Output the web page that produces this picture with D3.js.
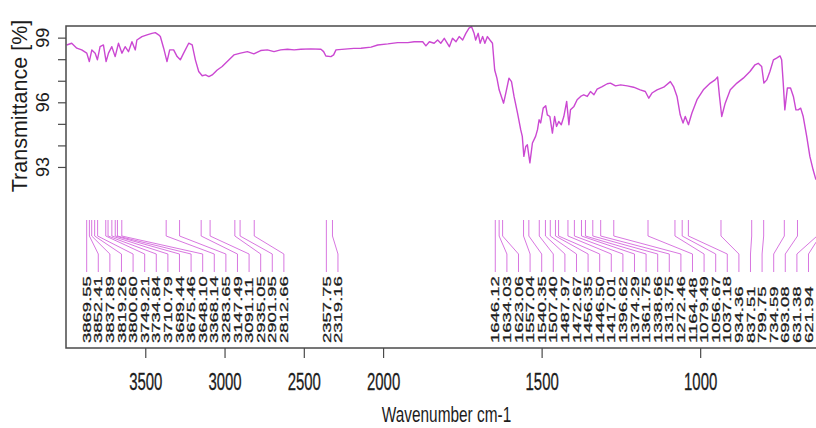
<!DOCTYPE html>
<html>
<head>
<meta charset="utf-8">
<script src="https://cdn.jsdelivr.net/npm/d3@7"></script>
<style>
  html, body { margin: 0; padding: 0; background: #fff; }
  svg { display: block; font-family: "Liberation Sans", Arial, Helvetica, sans-serif; }
</style>
</head>
<body>
<div id="chart"></div>
<script>
const WAVENUMBERS = [
  3996, 3964, 3932, 3901, 3869, 3853, 3837, 3816, 3802, 3785, 3764, 3747, 3732, 3711, 3690, 3669, 3647, 3627,
  3606, 3584, 3563, 3553, 3521, 3489, 3458, 3437, 3416, 3405, 3384, 3363, 3346, 3321, 3299, 3279, 3258, 3226,
  3204, 3184, 3163, 3141, 3120, 3099, 3078, 3046, 3015, 2983, 2941, 2899, 2856, 2815, 2772, 2730, 2688, 2646,
  2603, 2561, 2519, 2456, 2392, 2375, 2361, 2329, 2312, 2297, 2223, 2184, 2139, 2076, 2034,
  1985, 1954, 1922, 1902, 1875, 1865, 1854, 1839, 1828, 1818, 1807, 1791, 1781, 1770, 1760, 1749, 1739, 1729,
  1721, 1713, 1708, 1700, 1694, 1686, 1679, 1671, 1663, 1655, 1648, 1641, 1634, 1627, 1620, 1613, 1603, 1595,
  1587, 1576, 1566, 1561, 1556, 1550, 1545, 1540, 1537, 1529, 1519, 1513, 1508, 1503, 1495, 1487, 1482, 1474,
  1466, 1459, 1453, 1446, 1438, 1430, 1421, 1414, 1409, 1398, 1388, 1377, 1367, 1356, 1346, 1335, 1325, 1309,
  1293, 1283, 1267, 1251, 1230, 1210, 1189, 1173, 1162, 1152, 1136, 1115, 1094, 1084, 1073, 1063, 1054, 1047,
  1037, 1026, 1010, 990, 968, 953, 945, 939, 932, 921, 905, 884, 864, 843, 827, 817, 806, 799, 790, 780, 769,
  759, 748, 743, 738, 733, 725, 715, 706, 698, 691, 683, 675, 664, 654, 644, 635,
];

const TRANSMITTANCE = [
  98.66, 98.74, 98.51, 98.43, 98.28, 97.89, 98.43, 98.28, 97.97, 98.58, 98.66, 97.89, 98.28, 98.58, 98.12, 98.74, 98.28, 98.58,
  98.35, 98.81, 98.43, 98.89, 99.05, 99.13, 99.2, 99.23, 99.13, 99.05, 98.51, 97.89, 98.43, 98.43, 98.12, 97.97, 98.28, 98.74,
  98.66, 97.97, 97.43, 97.23, 97.27, 97.19, 97.27, 97.5, 97.66, 97.89, 98.2, 98.28, 98.35, 98.25, 98.4, 98.43, 98.35, 98.43,
  98.46, 98.43, 98.46, 98.48, 98.46, 98.35, 98.15, 98.12, 98.2, 98.43, 98.48, 98.5, 98.51, 98.56, 98.66,
  98.71, 98.77, 98.77, 98.81, 98.81, 98.62, 98.81, 98.74, 98.89, 98.74, 98.97, 98.58, 98.97, 98.81, 99.05, 98.89, 99.2, 99.44,
  99.51, 99.2, 98.89, 99.2, 98.74, 99.05, 98.74, 99.05, 98.89, 98.74, 97.5, 97.12, 96.58, 96.27, 95.96, 96.43, 97.12, 96.96,
  96.27, 95.5, 94.73, 94.42, 93.49, 93.95, 94.03, 93.49, 93.19, 94.11, 94.42, 94.73, 95.19, 95.04, 95.73, 95.84, 95.42, 95.34,
  94.57, 95.34, 94.88, 95.11, 94.96, 95.34, 96.04, 94.96, 95.65, 95.81, 96.12, 96.27, 96.35, 96.27, 96.5, 96.35, 96.61, 96.73,
  96.86, 96.89, 96.76, 96.81, 96.76, 96.7, 96.58, 96.5, 96.19, 96.43, 96.58, 96.7, 96.96, 96.73, 96.27, 95.42, 95.04, 95.34,
  94.96, 95.5, 96.12, 96.58, 96.89, 97.04, 97.17, 96.27, 95.34, 95.96, 96.58, 96.89, 97.12, 97.43, 97.74, 97.81, 97.66, 96.89, 97.04, 97.43, 97.97,
  98.05, 98.15, 97.97, 96.89, 95.65, 96.66, 96.66, 96.27, 95.65, 95.65, 95.73, 95.34, 94.42, 93.49, 92.88, 92.41,
];

const PEAKS = [
  3869.55, 3852.41, 3837.89, 3819.26, 3800.60, 3749.21, 3734.84, 3710.79, 3689.44, 3675.46, 3648.10, 3368.14,
  3283.65, 3147.49, 3091.11, 2935.05, 2901.95, 2812.66,
  2357.75, 2319.16,
  1646.12, 1634.03, 1623.06, 1557.04, 1540.35, 1507.40, 1487.97, 1472.67, 1456.35, 1446.50, 1417.01, 1396.62,
  1374.29, 1361.75, 1338.66, 1313.75, 1272.46, 1164.48, 1079.49, 1056.67, 1037.18, 934.36, 837.51, 799.75,
  734.59, 693.08, 631.38, 621.94,
];

const X_TICKS = [3500, 3000, 2500, 2000, 1500, 1000];
const Y_TICKS = [93, 94, 95, 96, 97, 98, 99];
const Y_TICK_LABELS = [93, 96, 99];
const X_TITLE = "Wavenumber cm-1";
const Y_TITLE = "Transmittance [%]";

const LINE_COLOR = "#cb48d2";
const LEADER_COLOR = "#d468dc";
const AXIS_COLOR = "#4a4a4a";
const TEXT_COLOR = "#1c1c1c";

// labels in a cluster sit side by side starting at the first peak of the cluster
function spreadLabels(xs, gap, breakDist) {
  const out = [];
  let start = 0;
  let count = 0;
  xs.forEach((px, i) => {
    if (i === 0 || px - xs[i - 1] > breakDist) {
      start = px;
      count = 0;
    }
    out.push(start + count * gap);
    count += 1;
  });
  return out;
}

function renderSpectrum() {
  const width = 816;
  const height = 428;
  const plot = { left: 66, top: 26, bottom: 348, right: 827 };
  // wavenumbers above 2000 are drawn at half the density of those below
  const breakX = plot.left + (plot.right - plot.left) * (1000 / 2400);

  const svg = d3.select("#chart").append("svg").attr("width", width).attr("height", height);

  const x = d3.scaleLinear().domain([4000, 2000, 600]).range([plot.left, breakX, plot.right]);
  const y = d3.scaleLinear().domain([84.6, 99.54]).range([plot.bottom, plot.top]);

  svg.append("defs").append("clipPath").attr("id", "plot-clip")
    .append("rect")
    .attr("x", plot.left).attr("y", plot.top)
    .attr("width", plot.right - plot.left).attr("height", plot.bottom - plot.top);

  const points = d3.zip(WAVENUMBERS, TRANSMITTANCE);
  const line = d3.line().x((d) => x(d[0])).y((d) => y(d[1])).curve(d3.curveLinear);

  svg.append("path")
    .datum(points)
    .attr("clip-path", "url(#plot-clip)")
    .attr("fill", "none")
    .attr("stroke", LINE_COLOR)
    .attr("stroke-width", 1.4)
    .attr("stroke-linejoin", "round")
    .attr("d", line);

  // peak leaders and labels
  const leader = { top: 220, bend1: 236, bend2: 254, bottom: 272, text: 343 };
  const peakX = PEAKS.map((p) => x(p));
  const labelX = spreadLabels(peakX, 11.6, 50);
  const peaks = PEAKS.map((p, i) => ({ value: p, px: peakX[i], lx: labelX[i] }));

  svg.append("g")
    .selectAll("path")
    .data(peaks)
    .join("path")
    .attr("fill", "none")
    .attr("stroke", LEADER_COLOR)
    .attr("stroke-width", 0.9)
    .attr("d", (d) => `M${d.px},${leader.top}L${d.px},${leader.bend1}L${d.lx},${leader.bend2}L${d.lx},${leader.bottom}`);

  svg.append("g")
    .selectAll("text")
    .data(peaks)
    .join("text")
    .attr("transform", (d) => `translate(${d.lx},${leader.text}) scale(0.63,1) rotate(-90)`)
    .attr("dy", "0.36em")
    .attr("font-size", 18.5)
    .attr("fill", TEXT_COLOR)
    .attr("stroke", TEXT_COLOR)
    .attr("stroke-width", 0.45)
    .text((d) => d.value.toFixed(2));

  // x axis
  svg.append("g")
    .attr("transform", `translate(0,${plot.bottom})`)
    .call(d3.axisBottom(x).tickValues(X_TICKS).tickSize(10).tickPadding(16).tickFormat(d3.format("d")))
    .call((g) => g.select(".domain").remove())
    .call((g) => g.selectAll("line").attr("stroke", AXIS_COLOR).attr("stroke-width", 1.2))
    .call((g) => g.selectAll("text")
      .attr("font-size", 23)
      .attr("font-family", "'Liberation Sans', Arial, sans-serif")
      .attr("fill", TEXT_COLOR)
      .attr("stroke", TEXT_COLOR)
      .attr("stroke-width", 0.3)
      .attr("transform", "scale(0.65,1)"));

  // y axis: all ticks, labels only on some
  svg.append("g")
    .attr("transform", `translate(${plot.left},0)`)
    .call(d3.axisLeft(y).tickValues(Y_TICKS).tickSize(8).tickFormat(""))
    .call((g) => g.select(".domain").remove())
    .call((g) => g.selectAll("line").attr("stroke", AXIS_COLOR).attr("stroke-width", 1.2));

  svg.append("g")
    .selectAll("text")
    .data(Y_TICK_LABELS)
    .join("text")
    .attr("transform", (d) => `translate(43,${y(d)}) rotate(-90)`)
    .attr("text-anchor", "middle")
    .attr("dy", "0.36em")
    .attr("font-size", 18)
    .attr("fill", TEXT_COLOR)
    .text((d) => d);

  // box
  svg.append("rect")
    .attr("x", plot.left).attr("y", plot.top)
    .attr("width", plot.right - plot.left).attr("height", plot.bottom - plot.top)
    .attr("fill", "none")
    .attr("stroke", AXIS_COLOR)
    .attr("stroke-width", 1.5);

  // titles
  svg.append("text")
    .attr("transform", `translate(${(plot.left + plot.right) / 2},422) scale(0.7,1)`)
    .attr("text-anchor", "middle")
    .attr("font-size", 22)
    .attr("fill", TEXT_COLOR)
    .text(X_TITLE);

  svg.append("text")
    .attr("transform", `translate(19,${(plot.top + 186) / 2}) rotate(-90)`)
    .attr("text-anchor", "middle")
    .attr("dy", "0.36em")
    .attr("font-size", 21.5)
    .attr("fill", TEXT_COLOR)
    .text(Y_TITLE);
}

renderSpectrum();
</script>
</body>
</html>
